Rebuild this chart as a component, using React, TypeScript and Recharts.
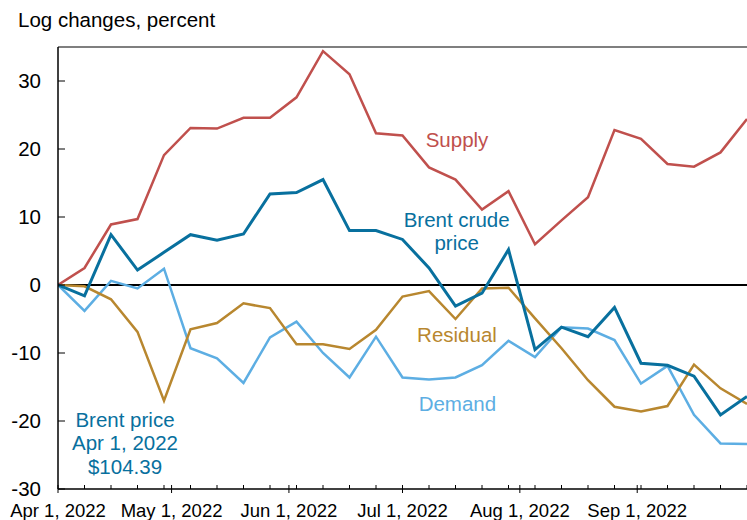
import React from 'react';
import { LineChart, Line, XAxis, YAxis, ReferenceLine, ReferenceDot } from 'recharts';

const FONT = '"Liberation Sans", Arial, Helvetica, sans-serif';

const weekDates = [
  '2022-04-01', '2022-04-08', '2022-04-15', '2022-04-22', '2022-04-29',
  '2022-05-06', '2022-05-13', '2022-05-20', '2022-05-27',
  '2022-06-03', '2022-06-10', '2022-06-17', '2022-06-24',
  '2022-07-01', '2022-07-08', '2022-07-15', '2022-07-22', '2022-07-29',
  '2022-08-05', '2022-08-12', '2022-08-19', '2022-08-26',
  '2022-09-02', '2022-09-09', '2022-09-16', '2022-09-23', '2022-09-30',
];

const supply = [0, 2.5, 8.9, 9.7, 19.1, 23.1, 23.0, 24.6, 24.6, 27.6, 34.4, 31.0, 22.3, 22.0, 17.3, 15.5, 11.1, 13.8, 6.0, 9.5, 12.9, 22.8, 21.5, 17.8, 17.4, 19.5, 24.4];
const brent = [0, -1.6, 7.4, 2.2, 4.8, 7.4, 6.6, 7.5, 13.4, 13.6, 15.5, 8.0, 8.0, 6.7, 2.5, -3.1, -1.2, 5.2, -9.5, -6.2, -7.6, -3.3, -11.5, -11.8, -13.4, -19.1, -16.4];
const residual = [0, -0.2, -2.1, -6.9, -17.0, -6.5, -5.6, -2.7, -3.4, -8.7, -8.7, -9.4, -6.6, -1.7, -0.9, -5.0, -0.5, -0.4, -4.9, -9.3, -14.0, -17.9, -18.6, -17.8, -11.7, -15.2, -17.5];
const demand = [0, -3.8, 0.6, -0.5, 2.4, -9.3, -10.8, -14.4, -7.7, -5.4, -10.0, -13.6, -7.6, -13.6, -13.9, -13.6, -11.8, -8.2, -10.6, -6.2, -6.4, -8.1, -14.5, -11.9, -19.1, -23.3, -23.4];

const monthTickDates = ['2022-04-01', '2022-05-01', '2022-06-01', '2022-07-01', '2022-08-01', '2022-09-01'];
const monthTickLabels = ['Apr 1, 2022', 'May 1, 2022', 'Jun 1, 2022', 'Jul 1, 2022', 'Aug 1, 2022', 'Sep 1, 2022'];
const yTicks = [-30, -20, -10, 0, 10, 20, 30];
const yDomain = [-30, 35];
const startDate = '2022-04-01';
const endDate = '2022-09-30';

const COLORS = {
  supply: '#C0504D',
  brent: '#08709E',
  residual: '#B8872F',
  demand: '#5DAEE3',
};

const dayOf = (s: string) => Math.round((Date.parse(s) - Date.parse(startDate)) / 86400000);

const data = weekDates.map((d, i) => ({
  day: dayOf(d),
  supply: supply[i],
  brent: brent[i],
  residual: residual[i],
  demand: demand[i],
}));

const majorMap = new Map<number, string>();
monthTickDates.forEach((d, i) => majorMap.set(dayOf(d), monthTickLabels[i]));
const xTicks = Array.from(new Set([...weekDates.map(dayOf), ...monthTickDates.map(dayOf)])).sort((a, b) => a - b);

const notes = [
  { lines: ['Supply'], day: 105.4, value: 20.3, color: COLORS.supply },
  { lines: ['Brent crude', 'price'], day: 105.3, value: 8.6, color: COLORS.brent },
  { lines: ['Residual'], day: 105.4, value: -8.35, color: COLORS.residual },
  { lines: ['Demand'], day: 105.5, value: -18.6, color: COLORS.demand },
  { lines: ['Brent price', 'Apr 1, 2022', '$104.39'], day: 17.7, value: -20.9, color: COLORS.brent },
];

const XTick = (props: any) => {
  const { x, y, payload } = props;
  const label = majorMap.get(payload.value);
  return (
    <g>
      {label !== undefined ? (
        <line x1={x} x2={x} y1={y - 4} y2={y + 4} stroke="#000" strokeWidth={1} />
      ) : (
        <line x1={x} x2={x} y1={y - 4} y2={y} stroke="#000" strokeWidth={1} />
      )}
      {label !== undefined && (
        <text x={x} y={y + 28} textAnchor="middle" fontSize={18.5} fontFamily={FONT} fill="#000">
          {label}
        </text>
      )}
    </g>
  );
};

const YTick = (props: any) => {
  const { x, y, payload } = props;
  return (
    <g>
      <line x1={x} x2={x + 7} y1={y} y2={y} stroke="#000" strokeWidth={1} />
      <text x={x - 17} y={y} dy="0.36em" textAnchor="end" fontSize={20.5} fontFamily={FONT} fill="#000">
        {payload.value}
      </text>
    </g>
  );
};

const makeNote = (lines: string[], color: string) => (props: any) => {
  const { cx, cy } = props;
  return (
    <text x={cx} y={cy} fill={color} fontSize={20.5} fontFamily={FONT} textAnchor="middle">
      {lines.map((l, i) => (
        <tspan key={i} x={cx} dy={i === 0 ? 0 : 23.3}>
          {l}
        </tspan>
      ))}
    </text>
  );
};

export default function App() {
  return (
    <div style={{ position: 'absolute', left: 0, top: 0, width: 747, height: 520, overflow: 'hidden', background: '#fff' }}>
      <svg width={747} height={48} style={{ position: 'absolute', left: 0, top: 0 }}>
        <text x={18} y={27} fontSize={20.5} fontFamily={FONT} fill="#000">
          Log changes, percent
        </text>
      </svg>
      <LineChart width={747} height={520} data={data} margin={{ top: 47, right: 0, bottom: 0, left: 8 }}>
        <XAxis
          dataKey="day"
          type="number"
          domain={[dayOf(startDate), dayOf(endDate)]}
          ticks={xTicks}
          interval={0}
          tickSize={0}
          tickMargin={0}
          tickLine={false}
          tick={<XTick />}
          height={31}
          axisLine={{ stroke: '#000', strokeWidth: 1.5 }}
          allowDataOverflow
        />
        <YAxis
          type="number"
          domain={yDomain}
          ticks={yTicks}
          interval={0}
          tickSize={0}
          tickMargin={0}
          tickLine={false}
          tick={<YTick />}
          width={50}
          axisLine={{ stroke: '#000', strokeWidth: 1.5 }}
          allowDataOverflow
        />
        <ReferenceLine y={35} stroke="#000" strokeWidth={1.2} />
        <ReferenceLine y={0} stroke="#000" strokeWidth={1.8} />
        <Line type="linear" dataKey="demand" stroke={COLORS.demand} strokeWidth={2.5} dot={false} isAnimationActive={false} />
        <Line type="linear" dataKey="residual" stroke={COLORS.residual} strokeWidth={2.5} dot={false} isAnimationActive={false} />
        <Line type="linear" dataKey="supply" stroke={COLORS.supply} strokeWidth={2.5} dot={false} isAnimationActive={false} />
        <Line type="linear" dataKey="brent" stroke={COLORS.brent} strokeWidth={3} dot={false} isAnimationActive={false} />
        {notes.map((n, i) => (
          <ReferenceDot key={i} x={n.day} y={n.value} r={1} shape={makeNote(n.lines, n.color)} />
        ))}
      </LineChart>
    </div>
  );
}
